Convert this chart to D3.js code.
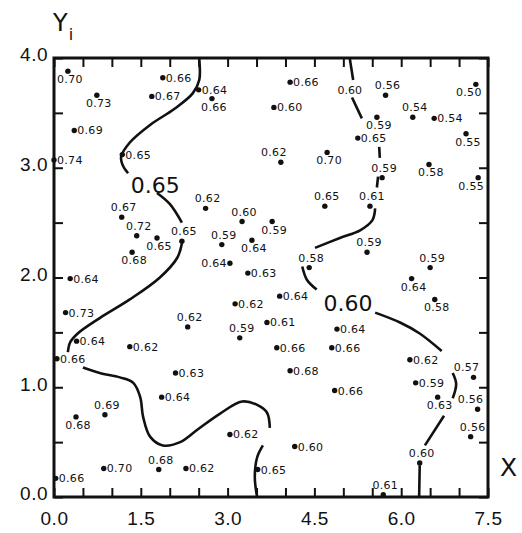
<!DOCTYPE html>
<html>
<head>
<meta charset="utf-8">
<script src="https://cdn.jsdelivr.net/npm/d3@7"></script>
<style>
  body { margin: 0; background: #fff; }
  svg { display: block; font-family: "DejaVu Sans", sans-serif; }
</style>
</head>
<body>
<svg id="chart" width="522" height="533"></svg>
<script>
// sample points: X position, Y position, measured value
var px = [0.24, 0.74, 1.88, 1.69, 2.50, 2.73, 0.35, 0.00, 1.18, 4.08,
          3.80, 5.73, 5.58, 6.20, 6.57, 7.29, 7.12, 5.25, 3.92, 4.72,
          5.67, 6.48, 7.33, 2.62, 3.25, 1.17, 1.43, 1.78, 1.35, 2.21,
          2.90, 3.42, 3.77, 3.04, 3.35, 0.28, 0.20, 2.31, 3.13, 3.21,
          0.39, 1.31, 4.68, 5.46, 5.41, 4.41, 3.90, 3.68, 4.89, 6.50,
          6.18, 6.58, 3.85, 4.80, 4.08, 4.85, 6.15, 6.25, 6.63, 7.25,
          7.32, 7.20, 4.16, 3.52, 5.69, 6.32, 3.04, 0.05, 2.10, 1.86,
          0.88, 0.38, 0.86, 1.81, 2.28, 0.03];
var py = [3.88, 3.66, 3.82, 3.65, 3.71, 3.63, 3.34, 3.07, 3.12, 3.78,
          3.55, 3.66, 3.46, 3.46, 3.45, 3.76, 3.31, 3.27, 3.05, 3.14,
          2.91, 3.03, 2.91, 2.63, 2.51, 2.55, 2.38, 2.36, 2.23, 2.33,
          2.30, 2.34, 2.51, 2.13, 2.04, 1.99, 1.68, 1.55, 1.76, 1.45,
          1.42, 1.37, 2.65, 2.65, 2.23, 2.09, 1.83, 1.59, 1.53, 2.09,
          1.99, 1.80, 1.36, 1.36, 1.15, 0.97, 1.25, 1.04, 0.91, 1.09,
          0.80, 0.55, 0.46, 0.25, 0.02, 0.31, 0.57, 1.26, 1.13, 0.91,
          0.75, 0.73, 0.26, 0.25, 0.26, 0.17];
var pv = ["0.70","0.73","0.66","0.67","0.64","0.66","0.69","0.74","0.65","0.66",
          "0.60","0.56","0.59","0.54","0.54","0.50","0.55","0.65","0.62","0.70",
          "0.59","0.58","0.55","0.62","0.60","0.67","0.72","0.65","0.68","0.65",
          "0.59","0.64","0.59","0.64","0.63","0.64","0.73","0.62","0.62","0.59",
          "0.64","0.62","0.65","0.61","0.59","0.58","0.64","0.61","0.64","0.59",
          "0.64","0.58","0.66","0.66","0.68","0.66","0.62","0.59","0.63","0.57",
          "0.56","0.56","0.60","0.65","0.61","0.60","0.62","0.66","0.63","0.64",
          "0.69","0.68","0.70","0.68","0.62","0.66"];
// where each value is written next to its dot (r right, l left, a above, b below, *l shifted left)
var side = ["b","b","r","r","r","b","r","r","r","r",
            "r","a","b","a","r","bl","b","r","al","b",
            "a","b","bl","a","a","a","a","b","b","a",
            "a","b","b","l","r","r","r","a","r","a",
            "r","r","a","a","a","a","r","r","r","a",
            "b","b","r","r","r","r","r","r","b","al",
            "al","a","r","r","a","a","r","r","r","r",
            "a","b","r","a","r","r"];

// contour lines, drawn in pieces (broken where labels sit)
var contour65 = [
  [[2.51,3.99],[2.51,3.80],[2.40,3.68],[2.09,3.54],[1.66,3.39],[1.31,3.23],[1.16,3.10],[1.19,3.02],[1.28,2.95]],
  [[1.78,2.77],[2.00,2.67],[2.21,2.50]],
  [[2.21,2.31],[2.13,2.18],[1.83,2.00],[1.31,1.80],[0.79,1.63],[0.41,1.49],[0.28,1.41],[0.24,1.32]],
  [[0.50,1.18],[0.79,1.13],[1.14,1.09],[1.37,1.04],[1.49,0.91],[1.54,0.73],[1.66,0.55],[1.88,0.47],
   [2.18,0.50],[2.47,0.61],[2.87,0.76],[3.25,0.87],[3.51,0.84],[3.68,0.77],[3.73,0.63]],
  [[3.61,0.47],[3.51,0.36],[3.47,0.18],[3.51,0.00]]
];
var contour60 = [
  [[5.11,4.00],[5.17,3.80]],
  [[5.15,3.64],[5.32,3.45]],
  [[5.62,3.19],[5.63,3.09]],
  [[5.60,2.92],[5.58,2.82]],
  [[5.55,2.63],[5.50,2.52],[5.29,2.43],[4.94,2.36],[4.51,2.27]],
  [[4.29,2.10],[4.37,1.98],[4.54,1.89]],
  [[5.55,1.68],[5.98,1.59],[6.32,1.49],[6.70,1.33]],
  [[6.89,1.13],[6.95,1.03],[6.89,0.90]],
  [[6.74,0.74],[6.41,0.47]],
  [[6.32,0.29],[6.31,0.00]]
];
var contourText = ["0.60", "0.65", "0.60"];
var contourTextX = [5.11, 1.75, 5.08];
var contourTextY = [3.71, 2.84, 1.77];
var contourTextBig = [false, true, true];

var xTickLabels = [0, 1.5, 3, 4.5, 6, 7.5];
var yTickLabels = [0, 1, 2, 3, 4];

var svg = d3.select("#chart");
var margin = {left: 54, right: 34, top: 58, bottom: 36};
var w = 522 - margin.left - margin.right;
var h = 533 - margin.top - margin.bottom;

var x = d3.scaleLinear().domain([0, 7.5]).range([margin.left, margin.left + w]);
var y = d3.scaleLinear().domain([0, 4]).range([margin.top + h, margin.top]);

var halfX = d3.range(0, 7.51, 0.5);
var halfY = d3.range(0, 4.01, 0.5);

function fmt(d) {
  return xTickLabels.indexOf(d) >= 0 ? d.toFixed(1) : "";
}
function fmtY(d) {
  return yTickLabels.indexOf(d) >= 0 ? d.toFixed(1) : "";
}

var bottomAxis = svg.append("g")
    .attr("transform", "translate(0," + (margin.top + h) + ")")
    .call(d3.axisBottom(x).tickValues(halfX).tickSizeInner(-9).tickSizeOuter(0).tickPadding(15).tickFormat(fmt));
var leftAxis = svg.append("g")
    .attr("transform", "translate(" + margin.left + ",0)")
    .call(d3.axisLeft(y).tickValues(halfY).tickSizeInner(-9).tickSizeOuter(0).tickPadding(6).tickFormat(fmtY));
svg.append("g")
    .attr("transform", "translate(0," + margin.top + ")")
    .call(d3.axisTop(x).tickValues(halfX).tickSizeInner(-9).tickSizeOuter(0).tickFormat(""));
svg.append("g")
    .attr("transform", "translate(" + (margin.left + w) + ",0)")
    .call(d3.axisRight(y).tickValues(halfY).tickSizeInner(-9).tickSizeOuter(0).tickFormat(""));

svg.selectAll(".domain").remove();
svg.selectAll(".tick line").attr("stroke", "#111").attr("stroke-width", 2);

bottomAxis.selectAll("text")
    .style("font-size", "19px")
    .attr("fill", "#111")
    .attr("letter-spacing", "0.5px");
leftAxis.selectAll("text")
    .style("font-size", "19px")
    .attr("fill", "#111")
    .attr("dy", "0.15em")
    .attr("letter-spacing", "0.5px");

// frame
svg.append("rect")
    .attr("x", x(0)).attr("y", y(4))
    .attr("width", x(7.5) - x(0)).attr("height", y(0) - y(4))
    .attr("fill", "none").attr("stroke", "#111").attr("stroke-width", 3);

// axis titles
var yt = svg.append("text").attr("x", 53).attr("y", 31)
    .style("font-size", "24px").attr("fill", "#111").text("Y");
yt.append("tspan").attr("dy", 9).attr("dx", 1).style("font-size", "16px").text("i");
svg.append("text").attr("x", 500).attr("y", 476)
    .style("font-size", "25px").attr("fill", "#111").text("X");

// contours
var line = d3.line()
    .x(function(d) { return x(d[0]); })
    .y(function(d) { return y(d[1]); })
    .curve(d3.curveCatmullRom.alpha(0.5));

svg.selectAll(".c65").data(contour65).enter().append("path")
    .attr("d", line).attr("fill", "none").attr("stroke", "#111").attr("stroke-width", 2.6);
svg.selectAll(".c60").data(contour60).enter().append("path")
    .attr("d", line).attr("fill", "none").attr("stroke", "#111").attr("stroke-width", 2.6);

svg.selectAll(".clabel").data(contourText).enter().append("text")
    .attr("x", function(d, i) { return x(contourTextX[i]); })
    .attr("y", function(d, i) { return y(contourTextY[i]); })
    .attr("text-anchor", "middle")
    .attr("dy", "0.36em")
    .style("font-size", function(d, i) { return contourTextBig[i] ? "22px" : "11px"; })
    .attr("fill", "#111")
    .text(function(d) { return d; });

// points
var idx = d3.range(pv.length);
svg.selectAll(".dot").data(idx).enter().append("circle")
    .attr("cx", function(i) { return x(px[i]); })
    .attr("cy", function(i) { return y(py[i]); })
    .attr("r", 2.7)
    .attr("fill", "#111");

svg.selectAll(".vlabel").data(idx).enter().append("text")
    .attr("x", function(i) {
      var s = side[i], cx = x(px[i]);
      if (s === "r") return cx + 3;
      if (s === "l") return cx - 3;
      if (s === "al" || s === "bl") return cx - 7;
      return cx + 2;
    })
    .attr("y", function(i) {
      var s = side[i], cy = y(py[i]);
      if (s === "a" || s === "al") return cy - 6;
      if (s === "b" || s === "bl") return cy + 12;
      return cy + 4;
    })
    .attr("text-anchor", function(i) {
      var s = side[i];
      if (s === "r") return "start";
      if (s === "l") return "end";
      return "middle";
    })
    .style("font-size", "11px")
    .attr("letter-spacing", "0.3px")
    .attr("fill", "#111")
    .text(function(i) { return pv[i]; });
</script>
</body>
</html>
